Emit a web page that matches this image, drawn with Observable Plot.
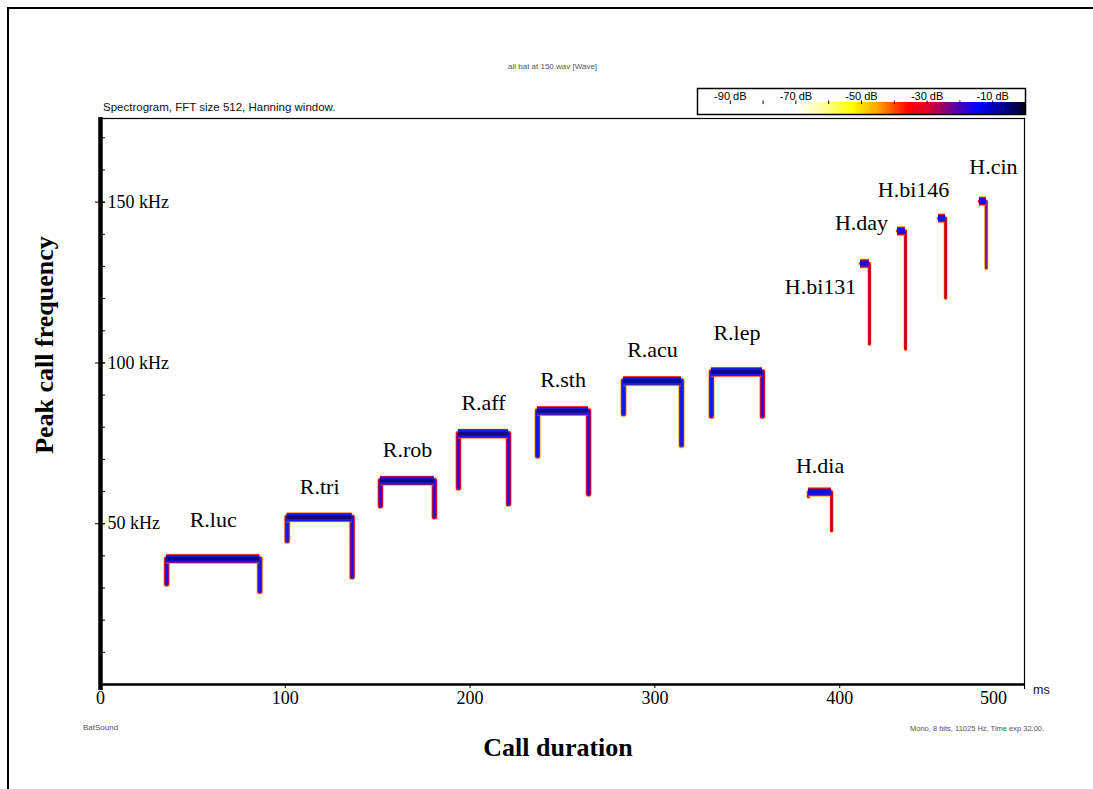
<!DOCTYPE html>
<html><head><meta charset="utf-8">
<script src="https://cdn.jsdelivr.net/npm/d3@7"></script>
<script src="https://cdn.jsdelivr.net/npm/@observablehq/plot@0.6"></script>
<style>
html,body{margin:0;padding:0;background:#fff;overflow:hidden;}
#wrap{position:relative;width:1093px;height:789px;overflow:hidden;background:#fff;font-family:"Liberation Sans",Arial,sans-serif;}
.t{position:absolute;white-space:nowrap;line-height:1;}
.c{transform:translate(-50%,-50%);}
.bl{position:absolute;background:#000;}
#main{position:absolute;left:0;top:0;}
#cbar{position:absolute;left:696px;top:87px;}
</style></head><body><div id="wrap">
<div class="bl" style="left:7px;top:7px;width:1086px;height:2px;"></div>
<div class="bl" style="left:7px;top:7px;width:2px;height:782px;"></div>
<div id="main"></div>
<div id="cbar"></div>
<div class="t" style="left:508px;top:63px;font-size:8px;color:#555;">all bat at 150.wav [Wave]</div>
<div class="t" style="left:103px;top:102px;font-size:11.5px;color:#111;">Spectrogram, FFT size 512, Hanning window.</div>
<div class="t" style="left:1033px;top:684px;font-size:12.5px;color:#111;">ms</div>
<div class="t" style="left:83px;top:724px;font-size:8px;color:#555;">BatSound</div>
<div class="t" style="left:910px;top:725px;font-size:7.5px;color:#555;">Mono, 8 bits, 11025 Hz, Time exp 32.00.</div>
<div class="t c" style="left:558px;top:748px;font-size:26px;font-weight:bold;font-family:'Liberation Serif','Times New Roman',serif;">Call duration</div>
<div class="t" style="left:45px;top:345px;font-size:26px;font-weight:bold;font-family:'Liberation Serif','Times New Roman',serif;transform:translate(-50%,-50%) rotate(-90deg);">Peak call frequency</div>
</div>
<script>
// ---- data ----
const species  = ["R.luc","R.tri","R.rob","R.aff","R.sth","R.acu","R.lep","H.dia","H.bi131","H.day","H.bi146","H.cin"];
const startMs  = [35.8, 101.0, 151.5, 193.7, 236.5, 283.0, 330.6, 383.1, 411.3, 431.3, 453.5, 475.6];
const endMs    = [86.2, 136.2, 180.7, 220.8, 264.1, 314.4, 358.2, 395.6, 416.1, 435.6, 457.3, 479.3];
const cfKHz    = [39.1, 52.0, 63.4, 78.0, 85.1, 94.4, 97.2, 59.9, 130.9, 141.0, 145.0, 150.3];
const startKHz = [31.3, 44.7, 55.6, 61.2, 71.1, 84.2, 83.5, 58.4, 130.9, 141.0, 145.0, 150.3];
const endKHz   = [29.0, 33.5, 52.2, 56.2, 59.3, 74.5, 83.5, 47.8, 105.9, 104.3, 120.2, 129.5];

const xTicks  = [0, 100, 200, 300, 400];
const xLast   = [500];
const yMajor  = [50, 100, 150];
const yMinor  = [10, 20, 30, 40, 50, 60, 70, 80, 90, 100, 110, 120, 130, 140, 150, 160, 170];

const dbTicks  = [-90, -80, -70, -60, -50, -40, -30, -20, -10];
const dbLabels = [-90, -70, -50, -30, -10];
const dbStops  = [-100, -70, -62, -53, -45, -36, -30, -24, -15, -6, 0];
const dbColors = ["#ffffff", "#ffffff", "#ffffa0", "#ffff00", "#ffa000", "#ff0000", "#e0002a", "#800080", "#0000ff", "#000080", "#000018"];

// ---- build tables ----
const calls = species.map((name, i) => ({name, start: startMs[i], end: endMs[i], cf: cfKHz[i], f0: startKHz[i], f1: endKHz[i]}));
const path = calls.flatMap(c => [
  {name: c.name, t: c.start, f: c.f0},
  {name: c.name, t: c.start, f: c.cf},
  {name: c.name, t: c.end, f: c.cf},
  {name: c.name, t: c.end, f: c.f1}
]);
const isR = d => d.name.startsWith("R");
const isH = d => d.name.startsWith("H");
const serif = "'Liberation Serif','Times New Roman',serif";
const lab = {fontSize: 22, fontFamily: serif, fill: "#000", text: "name"};

const main = Plot.plot({
  width: 1093, height: 789,
  marginLeft: 100, marginRight: 69, marginTop: 118, marginBottom: 105,
  x: {domain: [0, 500], label: null},
  y: {domain: [0, 176], label: null},
  style: {background: "transparent", overflow: "visible"},
  marks: [
    Plot.frame({stroke: "#000", strokeWidth: 1.2}),
    // Rhinolophus calls
    Plot.line(path, {filter: isR, x: "t", y: "f", z: "name", stroke: "#ffb000", strokeWidth: 7, strokeOpacity: 0.5, strokeLinejoin: "round"}),
    Plot.line(path, {filter: isR, x: "t", y: "f", z: "name", stroke: "#e5102a", strokeWidth: 5.2, strokeLinejoin: "round"}),
    Plot.line(path, {filter: isR, x: "t", y: "f", z: "name", stroke: "#1a16e8", strokeWidth: 3.4, strokeLinejoin: "round"}),
    Plot.ruleY(calls, {filter: isR, y: "cf", x1: "start", x2: "end", stroke: "#ffb000", strokeWidth: 10.5, strokeOpacity: 0.45}),
    Plot.ruleY(calls, {filter: isR, y: "cf", x1: "start", x2: "end", stroke: "#e0101e", strokeWidth: 9.2}),
    Plot.ruleY(calls, {filter: isR, y: "cf", x1: "start", x2: "end", stroke: "#1818ea", strokeWidth: 7.6}),
    Plot.ruleY(calls, {filter: isR, y: "cf", x1: "start", x2: "end", stroke: "#08086a", strokeWidth: 3.5, strokeOpacity: 0.8}),
    // Hipposideros calls
    Plot.line(path, {filter: isH, x: "t", y: "f", z: "name", stroke: "#ffc000", strokeWidth: 4.5, strokeOpacity: 0.6, strokeLinejoin: "round"}),
    Plot.line(path, {filter: isH, x: "t", y: "f", z: "name", stroke: "#e3101a", strokeWidth: 3, strokeLinejoin: "round"}),
    Plot.line(path, {filter: isH, x: "t", y: "f", z: "name", stroke: "#6a1590", strokeWidth: 1.2, strokeLinejoin: "round"}),
    Plot.ruleY(calls, {filter: isH, y: "cf", x1: "start", x2: "end", stroke: "#ffb000", strokeWidth: 10, strokeOpacity: 0.6}),
    Plot.ruleY(calls, {filter: isH, y: "cf", x1: "start", x2: "end", stroke: "#e0101e", strokeWidth: 8.5}),
    Plot.ruleY(calls, {filter: isH, y: "cf", x1: "start", x2: "end", stroke: "#1212e0", strokeWidth: 6}),
    // labels
    Plot.text(calls, {...lab, filter: d => d.name === "R.luc" || d.name === "R.lep", x: d => (d.start + d.end) / 2, y: "cf", dy: -38.5}),
    Plot.text(calls, {...lab, filter: d => isR(d) && d.name !== "R.luc" && d.name !== "R.lep", x: d => (d.start + d.end) / 2, y: "cf", dy: -30.5}),
    Plot.text(calls, {...lab, filter: d => d.name === "H.dia", x: d => (d.start + d.end) / 2, y: "cf", dy: -26}),
    Plot.text(calls, {...lab, filter: d => d.name === "H.bi131", x: "start", y: "cf", dx: -40, dy: 23.5}),
    Plot.text(calls, {...lab, filter: d => d.name === "H.day", x: "start", y: "cf", dx: -36, dy: -8}),
    Plot.text(calls, {...lab, filter: d => d.name === "H.bi146", x: "start", y: "cf", dx: -25, dy: -28}),
    Plot.text(calls, {...lab, filter: d => d.name === "H.cin", x: "start", y: "cf", dx: 14, dy: -34}),
    // axes
    Plot.ruleY([0], {stroke: "#000", strokeWidth: 2.5}),
    Plot.ruleX([0], {stroke: "#000", strokeWidth: 4.5, insetBottom: -6, insetTop: -1}),
    Plot.axisX({ticks: xTicks, tickSize: 4, tickPadding: 3, fontSize: 18, fontFamily: serif, label: null, tickFormat: d => String(d)}),
    Plot.axisX({ticks: xLast, tickSize: 5, tickFormat: () => "", label: null}),
    Plot.axisX({ticks: xLast, tickSize: 0, tickPadding: 7, dx: -31, fontSize: 18, fontFamily: serif, label: null, tickFormat: d => String(d)}),
    Plot.axisY({ticks: yMinor, tickSize: 5, dx: 5, tickFormat: () => "", label: null}),
    Plot.axisY({ticks: yMajor, tickSize: 10, dx: 5, tickFormat: () => "", label: null}),
    Plot.axisY({ticks: yMajor, tickSize: 0, tickPadding: 0, dx: 7, textAnchor: "start", fontSize: 18, fontFamily: serif, label: null, tickFormat: d => `${d} kHz`})
  ]
});
document.getElementById("main").appendChild(main);

// ---- colour bar ----
const steps = d3.range(-100, 0, 0.5);
const cbar = Plot.plot({
  width: 330, height: 28,
  marginLeft: 1, marginRight: 1, marginTop: 1, marginBottom: 1,
  x: {domain: [-100, 0], axis: null},
  y: {domain: [0, 1], axis: null},
  color: {type: "linear", domain: dbStops, range: dbColors, interpolate: "rgb"},
  style: {background: "#fff", overflow: "visible"},
  marks: [
    Plot.rect(steps, {x1: d => d, x2: d => Math.min(0, d + 1), y1: 0, y2: 0.47, fill: d => d, shapeRendering: "crispEdges"}),
    Plot.ruleX(dbTicks, {y1: 0.38, y2: 0.52, stroke: "#000", strokeWidth: 1}),
    Plot.text(dbLabels, {x: d => d, y: 0.7, text: d => `${d} dB`, fontSize: 11, fontFamily: "'Liberation Sans',Arial,sans-serif", fill: "#000"}),
    Plot.frame({stroke: "#000", strokeWidth: 1.5})
  ]
});
document.getElementById("cbar").appendChild(cbar);
</script>
</body></html>
